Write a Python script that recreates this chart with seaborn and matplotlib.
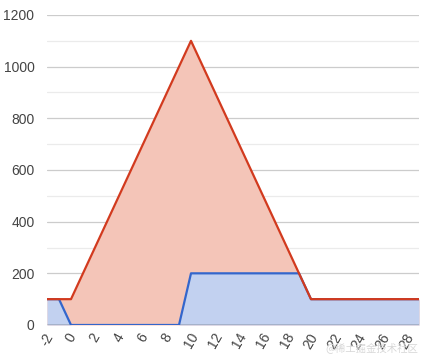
import matplotlib
matplotlib.use("Agg")
import matplotlib.pyplot as plt
import seaborn as sns
import pandas as pd
import numpy as np

x_vals = list(range(-2, 30))
red_vals = [100, 100, 100, 200, 300, 400, 500, 600, 700, 800, 900, 1000, 1100,
            1000, 900, 800, 700, 600, 500, 400, 300, 200, 100,
            100, 100, 100, 100, 100, 100, 100, 100, 100]
blue_vals = [100, 100, 0, 0, 0, 0, 0, 0, 0, 0, 0, 0, 200,
             200, 200, 200, 200, 200, 200, 200, 200, 200, 100,
             100, 100, 100, 100, 100, 100, 100, 100, 100]
x_ticks = list(range(-2, 30, 2))
y_major = [0, 200, 400, 600, 800, 1000, 1200]
y_minor = [100, 300, 500, 700, 900, 1100]

df = pd.DataFrame({"x": x_vals, "red": red_vals, "blue": blue_vals})

sns.set_style("white")
plt.rcParams["font.family"] = ["Liberation Sans", "DejaVu Sans"]

fig = plt.figure(figsize=(4.3, 3.6), dpi=100)
ax = fig.add_axes([47 / 430, 1 - 325 / 360, 372 / 430, 310 / 360])

red_line = "#d23a1e"
blue_line = "#3366cc"

for y in y_minor:
    ax.axhline(y, color="#ebebeb", lw=0.9, zorder=0)
for y in y_major[1:]:
    ax.axhline(y, color="#cccccc", lw=0.9, zorder=0)

ax.fill_between(df["x"], 0, df["red"], color="#f4c5b8", lw=0, zorder=1)
ax.fill_between(df["x"], 0, df["blue"], color="#c2d1f0", lw=0, zorder=2)
ax.axhline(0, color="#333333", lw=1.0, zorder=3)
sns.lineplot(data=df, x="x", y="blue", ax=ax, color=blue_line, lw=1.6, zorder=4)
sns.lineplot(data=df, x="x", y="red", ax=ax, color=red_line, lw=1.6, zorder=5)

ax.set_xlim(-2, 29)
ax.set_ylim(0, 1200)
ax.set_xticks(x_ticks)
ax.set_xticklabels([str(t) for t in x_ticks], rotation=60, ha="center",
                   fontsize=10, color="#444444")
ax.set_yticks(y_major)
ax.set_yticklabels([str(t) for t in y_major], fontsize=10, color="#444444")
ax.tick_params(axis="both", length=0)
ax.tick_params(axis="y", pad=9)
ax.tick_params(axis="x", pad=4)
ax.set_xlabel("")
ax.set_ylabel("")
for s in ax.spines.values():
    s.set_visible(False)

fig.text(0.972, 0.035, "@稀土掘金技术社区", fontsize=7.5, color="#d8d8d8",
         family=["Noto Sans CJK SC", "DejaVu Sans"], ha="right", va="center")

fig.savefig("out.png", dpi=100)
